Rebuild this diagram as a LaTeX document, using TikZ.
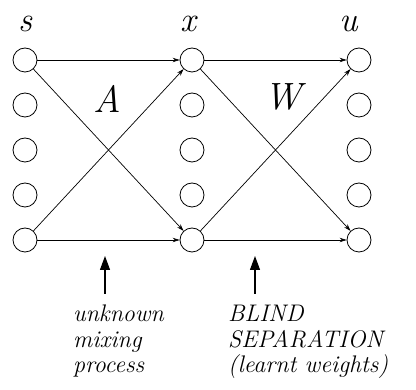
\documentclass[tikz,border=0pt]{standalone}
\usetikzlibrary{arrows.meta}
\begin{document}
\begin{tikzpicture}[x=1pt,y=-1pt,
  unit/.style={draw,circle,minimum size=24pt,inner sep=0pt,line width=0.8pt},
  link/.style={-{Stealth[length=7pt,width=4.5pt]},line width=0.7pt},
  pointer/.style={-{Triangle[length=14pt,width=10pt]},line width=1.2pt},
  layer/.style={font=\fontsize{35}{38}\selectfont\itshape},
  weights/.style={font=\fontsize{38}{40}\selectfont\itshape},
  caption/.style={font=\fontsize{24}{25.5}\selectfont\itshape,align=left,anchor=base west,inner sep=0pt}]
\useasboundingbox (0,0) rectangle (416,390);
% sources
\node[unit] (s1) at (25,60) {};
\node[unit] (s2) at (25,105) {};
\node[unit] (s3) at (25,150) {};
\node[unit] (s4) at (25,195) {};
\node[unit] (s5) at (25,240) {};
% mixtures
\node[unit] (x1) at (192,60) {};
\node[unit] (x2) at (192,105) {};
\node[unit] (x3) at (192,150) {};
\node[unit] (x4) at (192,195) {};
\node[unit] (x5) at (192,240) {};
% outputs
\node[unit] (u1) at (359,60) {};
\node[unit] (u2) at (359,105) {};
\node[unit] (u3) at (359,150) {};
\node[unit] (u4) at (359,195) {};
\node[unit] (u5) at (359,240) {};
\node[layer] (ls) at (25,24) {s};
\node[layer] (lx) at (188,24) {x};
\node[layer] (lu) at (349,24) {u};
\node[weights] (la) at (107,99) {A};
\node[weights] (lw) at (283,97) {W};
\draw[link] (s1) -- (x1);
\draw[link] (s1) -- (x5);
\draw[link] (s5) -- (x1);
\draw[link] (s5) -- (x5);
\draw[link] (x1) -- (u1);
\draw[link] (x1) -- (u5);
\draw[link] (x5) -- (u1);
\draw[link] (x5) -- (u5);
\coordinate (ta) at (105,294);
\coordinate (ha) at (105,256);
\coordinate (tb) at (255,294);
\coordinate (hb) at (255,256);
\draw[pointer] (ta) -- (ha);
\draw[pointer] (tb) -- (hb);
\node[caption] (ca) at (73,373) {unknown\\mixing\\process};
\node[caption] (cb) at (228,373) {BLIND\\SEPARATION\\(learnt weights)};
\end{tikzpicture}
\end{document}
